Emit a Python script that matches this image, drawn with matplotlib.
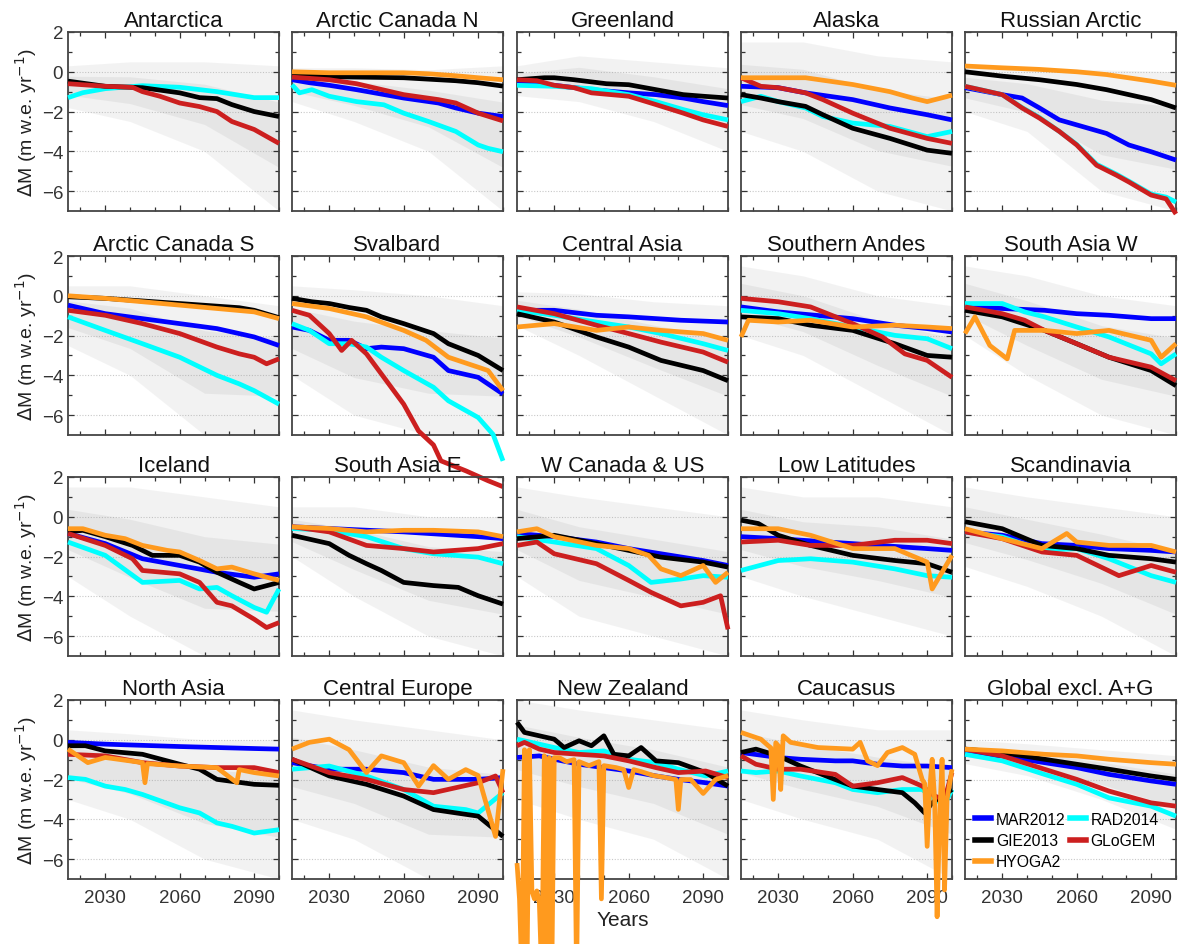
import matplotlib
matplotlib.use("Agg")
import matplotlib.pyplot as plt
import numpy as np
from matplotlib.lines import Line2D

plt.rcParams['font.family'] = ['Liberation Sans', 'DejaVu Sans']

# ---------------- data (years, values) per region and model ----------------
MODELS = ["MAR2012", "GIE2013", "HYOGA2", "RAD2014", "GLoGEM"]
COLORS = {"MAR2012": "#0000ff", "GIE2013": "#000000", "HYOGA2": "#ff9a1e",
          "RAD2014": "#00ffff", "GLoGEM": "#cc1f1f"}
DRAW_ORDER = ["MAR2012", "RAD2014", "GIE2013", "GLoGEM", "HYOGA2"]

ANTARCTICA = {
    "GIE2013": ([2015, 2030, 2045, 2060, 2068, 2075, 2081, 2090, 2100],
                [-0.47, -0.73, -0.8, -1.06, -1.3, -1.35, -1.65, -2.0, -2.25]),
    "GLoGEM": ([2015, 2030, 2041, 2045, 2052, 2060, 2068, 2075, 2081, 2090, 2100],
               [-0.6, -0.73, -0.78, -1.0, -1.23, -1.57, -1.75, -2.0, -2.5, -2.9, -3.6]),
    "RAD2014": ([2015, 2021, 2030, 2045, 2060, 2075, 2090, 2100],
                [-1.3, -1.05, -0.85, -0.7, -0.78, -1.0, -1.3, -1.3]),
}
ARCTIC_CANADA_N = {
    "HYOGA2": ([2015, 2030, 2060, 2070, 2081, 2090, 2100],
               [0.0, -0.05, -0.05, -0.1, -0.2, -0.3, -0.4]),
    "GIE2013": ([2015, 2030, 2060, 2081, 2090, 2100],
                [-0.17, -0.25, -0.3, -0.45, -0.55, -0.72]),
    "GLoGEM": ([2015, 2030, 2041, 2060, 2074, 2081, 2090, 2100],
               [-0.27, -0.4, -0.6, -1.15, -1.4, -1.57, -2.08, -2.47]),
    "MAR2012": ([2015, 2022, 2030, 2041, 2060, 2074, 2081, 2090, 2100],
                [-0.4, -0.55, -0.68, -0.9, -1.32, -1.57, -1.82, -2.08, -2.25]),
    "RAD2014": ([2015, 2018, 2023, 2030, 2041, 2052, 2060, 2070, 2081, 2090, 2094, 2100],
                [-0.65, -1.06, -0.9, -1.23, -1.5, -1.66, -2.08, -2.5, -3.0, -3.68, -3.85, -4.02]),
}
GREENLAND = {
    "GIE2013": ([2015, 2026, 2030, 2038, 2051, 2060, 2071, 2082, 2090, 2100],
                [-0.4, -0.3, -0.3, -0.4, -0.6, -0.65, -0.9, -1.15, -1.23, -1.32]),
    "MAR2012": ([2015, 2030, 2045, 2060, 2071, 2082, 2090, 2100],
                [-0.55, -0.68, -0.9, -1.06, -1.15, -1.32, -1.5, -1.7]),
    "GLoGEM": ([2015, 2023, 2030, 2038, 2045, 2060, 2071, 2082, 2090, 2100],
               [-0.4, -0.45, -0.68, -0.8, -1.06, -1.23, -1.65, -2.08, -2.42, -2.75]),
    "RAD2014": ([2015, 2030, 2045, 2060, 2071, 2082, 2090, 2100],
                [-0.68, -0.73, -0.85, -1.15, -1.5, -1.9, -2.16, -2.42]),
}
ALASKA = {
    "HYOGA2": ([2015, 2030, 2041, 2060, 2075, 2084, 2090, 2100],
               [-0.3, -0.3, -0.3, -0.64, -1.0, -1.32, -1.5, -1.18]),
    "MAR2012": ([2015, 2030, 2041, 2060, 2075, 2090, 2100],
                [-0.73, -0.8, -1.06, -1.4, -1.82, -2.16, -2.42]),
    "GLoGEM": ([2015, 2023, 2030, 2041, 2048, 2060, 2075, 2090, 2100],
               [-0.3, -0.73, -0.8, -1.06, -1.4, -2.08, -2.84, -3.35, -3.6]),
    "RAD2014": ([2015, 2023, 2030, 2041, 2048, 2060, 2075, 2090, 2100],
                [-1.5, -1.23, -1.5, -1.82, -2.25, -2.58, -2.75, -3.26, -3.0]),
    "GIE2013": ([2015, 2023, 2030, 2041, 2048, 2060, 2075, 2090, 2100],
                [-1.15, -1.32, -1.5, -1.74, -2.16, -2.84, -3.35, -3.94, -4.1]),
}
RUSSIAN_ARCTIC = {
    "HYOGA2": ([2015, 2030, 2045, 2060, 2072, 2090, 2100],
               [0.29, 0.2, 0.12, 0.0, -0.14, -0.47, -0.68]),
    "GIE2013": ([2015, 2030, 2045, 2060, 2072, 2090, 2100],
                [0.0, -0.22, -0.4, -0.64, -0.9, -1.4, -1.82]),
    "MAR2012": ([2015, 2030, 2038, 2045, 2053, 2060, 2072, 2081, 2090, 2100],
                [-0.8, -1.15, -1.32, -1.82, -2.42, -2.67, -3.1, -3.68, -4.02, -4.44]),
    "RAD2014": ([2015, 2024, 2030, 2038, 2045, 2053, 2060, 2068, 2076, 2081, 2090, 2096, 2100],
                [-0.73, -0.98, -1.15, -1.8, -2.3, -3.0, -3.65, -4.65, -5.15, -5.5, -6.15, -6.3, -6.55]),
    "GLoGEM": ([2015, 2024, 2030, 2038, 2045, 2053, 2060, 2068, 2076, 2081, 2090, 2096, 2100],
               [-0.73, -0.98, -1.15, -1.82, -2.33, -3.0, -3.68, -4.7, -5.2, -5.54, -6.2, -6.39, -7.15]),
}
ARCTIC_CANADA_S = {
    "HYOGA2": ([2015, 2030, 2045, 2060, 2075, 2090, 2100],
               [0.0, -0.13, -0.3, -0.47, -0.64, -0.81, -1.15]),
    "GIE2013": ([2015, 2030, 2060, 2084, 2090, 2100],
                [-0.05, -0.13, -0.39, -0.6, -0.73, -1.1]),
    "MAR2012": ([2015, 2030, 2045, 2060, 2075, 2090, 2100],
                [-0.47, -0.9, -1.15, -1.4, -1.65, -2.07, -2.5]),
    "GLoGEM": ([2015, 2030, 2045, 2060, 2075, 2084, 2090, 2095, 2100],
               [-0.73, -0.98, -1.4, -1.9, -2.58, -2.92, -3.09, -3.42, -3.17]),
    "RAD2014": ([2015, 2030, 2045, 2060, 2075, 2084, 2090, 2100],
                [-1.06, -1.74, -2.41, -3.09, -4.0, -4.43, -4.77, -5.45]),
}
SVALBARD = {
    "GIE2013": ([2015, 2023, 2030, 2038, 2045, 2051, 2060, 2072, 2078, 2090, 2100],
                [-0.13, -0.3, -0.39, -0.59, -0.73, -1.06, -1.4, -1.9, -2.41, -3.0, -3.76]),
    "HYOGA2": ([2015, 2030, 2045, 2060, 2069, 2078, 2090, 2094, 2100],
               [-0.39, -0.64, -1.06, -1.74, -2.24, -3.09, -3.59, -3.76, -4.77]),
    "MAR2012": ([2015, 2022, 2030, 2038, 2045, 2051, 2060, 2072, 2078, 2090, 2100],
                [-1.57, -1.74, -2.24, -2.24, -2.66, -2.58, -2.66, -3.09, -3.76, -4.1, -4.94]),
    "GLoGEM": ([2015, 2022, 2030, 2035, 2039, 2045, 2051, 2060, 2066, 2072, 2075, 2085, 2094, 2100],
               [-0.73, -0.98, -1.9, -2.75, -2.24, -2.92, -3.93, -5.45, -6.8, -7.5, -8.3, -8.8, -9.3, -9.6]),
    "RAD2014": ([2015, 2022, 2030, 2038, 2045, 2051, 2060, 2072, 2078, 2090, 2096, 2100],
                [-1.4, -1.74, -2.41, -2.41, -2.58, -3.09, -3.76, -4.6, -5.28, -6.12, -6.97, -8.3]),
}
CENTRAL_ASIA = {
    "MAR2012": ([2015, 2030, 2047, 2060, 2081, 2100], [-0.73, -0.73, -0.98, -1.06, -1.23, -1.32]),
    "RAD2014": ([2015, 2030, 2047, 2060, 2073, 2090, 2100], [-0.73, -0.98, -1.32, -1.57, -1.9, -2.41, -2.75]),
    "GLoGEM": ([2015, 2030, 2047, 2060, 2073, 2090, 2100], [-0.56, -0.9, -1.48, -1.9, -2.33, -2.83, -3.34]),
    "HYOGA2": ([2015, 2030, 2047, 2060, 2073, 2090, 2100], [-1.57, -1.4, -1.74, -1.57, -1.74, -1.9, -2.24]),
    "GIE2013": ([2015, 2030, 2047, 2060, 2073, 2090, 2100], [-0.9, -1.32, -2.07, -2.58, -3.25, -3.76, -4.27]),
}
SOUTHERN_ANDES = {
    "GLoGEM": ([2015, 2030, 2043, 2060, 2072, 2081, 2090, 2100], [-0.13, -0.3, -0.56, -1.4, -2.07, -2.92, -3.25, -4.1]),
    "MAR2012": ([2015, 2030, 2060, 2077, 2090, 2100], [-0.56, -0.81, -1.15, -1.48, -1.65, -1.82]),
    "RAD2014": ([2015, 2030, 2043, 2060, 2077, 2090, 2100], [-0.73, -0.9, -1.15, -1.57, -1.99, -2.16, -2.66]),
    "GIE2013": ([2015, 2030, 2043, 2060, 2077, 2090, 2100], [-1.06, -1.15, -1.48, -1.74, -2.41, -3.0, -3.09]),
    "HYOGA2": ([2015, 2018, 2030, 2043, 2060, 2077, 2090, 2100], [-2.07, -1.23, -1.32, -1.23, -1.57, -1.48, -1.57, -1.65]),
}
SOUTH_ASIA_W = {
    "MAR2012": ([2015, 2030, 2047, 2060, 2073, 2090, 2100], [-0.56, -0.64, -0.73, -0.9, -0.98, -1.15, -1.15]),
    "RAD2014": ([2015, 2030, 2039, 2047, 2060, 2073, 2090, 2094, 2100], [-0.39, -0.39, -0.81, -1.06, -1.57, -2.07, -2.92, -3.42, -2.92]),
    "GLoGEM": ([2015, 2030, 2039, 2047, 2060, 2073, 2090, 2100], [-0.56, -0.9, -1.23, -1.74, -2.41, -3.09, -3.59, -4.27]),
    "GIE2013": ([2015, 2030, 2047, 2060, 2073, 2090, 2100], [-0.73, -1.06, -1.74, -2.41, -3.09, -3.76, -4.52]),
    "HYOGA2": ([2015, 2019, 2025, 2032, 2035, 2047, 2060, 2073, 2090, 2094, 2100],
               [-1.9, -1.06, -2.5, -3.17, -1.74, -1.74, -1.9, -1.74, -2.24, -3.09, -2.41]),
}
ICELAND = {
    "HYOGA2": ([2015, 2021, 2030, 2038, 2045, 2055, 2060, 2068, 2075, 2081, 2090, 2100],
               [-0.6, -0.6, -0.93, -1.1, -1.44, -1.69, -1.77, -2.2, -2.62, -2.53, -2.87, -3.2]),
    "GIE2013": ([2015, 2021, 2030, 2041, 2049, 2060, 2068, 2075, 2084, 2090, 2100],
                [-0.76, -0.68, -1.0, -1.44, -1.94, -1.94, -2.28, -2.79, -3.3, -3.63, -3.3]),
    "MAR2012": ([2015, 2030, 2045, 2060, 2075, 2090, 2100], [-0.84, -1.35, -2.11, -2.45, -2.79, -3.04, -2.87]),
    "GLoGEM": ([2015, 2030, 2041, 2045, 2060, 2068, 2075, 2081, 2090, 2095, 2100],
               [-0.84, -1.44, -2.11, -2.7, -2.87, -3.3, -4.3, -4.48, -5.15, -5.57, -5.32]),
    "RAD2014": ([2015, 2030, 2045, 2060, 2068, 2075, 2081, 2090, 2095, 2100],
                [-1.27, -1.94, -3.3, -3.2, -3.63, -3.55, -3.97, -4.56, -4.8, -3.63]),
}
SOUTH_ASIA_E = {
    "HYOGA2": ([2015, 2030, 2045, 2060, 2072, 2090, 2100], [-0.5, -0.59, -0.76, -0.68, -0.68, -0.76, -1.0]),
    "MAR2012": ([2015, 2030, 2060, 2090, 2100], [-0.5, -0.59, -0.76, -1.0, -1.1]),
    "GLoGEM": ([2015, 2030, 2045, 2060, 2072, 2090, 2100], [-0.5, -0.76, -1.44, -1.6, -1.77, -1.6, -1.35]),
    "RAD2014": ([2015, 2030, 2045, 2060, 2072, 2090, 2100], [-0.59, -0.68, -1.0, -1.6, -1.86, -2.03, -2.36]),
    "GIE2013": ([2015, 2030, 2038, 2045, 2051, 2060, 2072, 2082, 2090, 2100],
                [-0.93, -1.35, -1.94, -2.36, -2.7, -3.3, -3.46, -3.55, -3.97, -4.39]),
}
W_CANADA_US = {
    "MAR2012": ([2015, 2030, 2047, 2060, 2073, 2090, 2100], [-0.84, -1.0, -1.27, -1.6, -1.86, -2.2, -2.45]),
    "GIE2013": ([2015, 2030, 2047, 2060, 2073, 2090, 2100], [-1.1, -0.93, -1.35, -1.69, -2.03, -2.28, -2.53]),
    "HYOGA2": ([2015, 2023, 2030, 2047, 2060, 2068, 2073, 2081, 2090, 2095, 2100],
               [-0.76, -0.6, -1.0, -1.44, -1.6, -1.94, -2.62, -2.96, -2.45, -3.3, -2.79]),
    "RAD2014": ([2015, 2030, 2047, 2060, 2069, 2081, 2090, 2100], [-1.0, -1.27, -1.6, -2.45, -3.3, -3.13, -2.96, -3.04]),
    "GLoGEM": ([2015, 2023, 2030, 2047, 2060, 2069, 2081, 2090, 2097, 2100],
               [-1.44, -1.27, -1.86, -2.36, -3.2, -3.8, -4.48, -4.3, -3.97, -5.66]),
}
LOW_LATITUDES = {
    "GIE2013": ([2015, 2022, 2030, 2043, 2060, 2077, 2090, 2100], [-0.17, -0.34, -0.93, -1.44, -1.94, -2.2, -2.36, -2.79]),
    "HYOGA2": ([2015, 2030, 2043, 2060, 2077, 2090, 2092, 2100], [-0.6, -0.6, -0.93, -1.6, -1.6, -2.28, -3.63, -1.94]),
    "GLoGEM": ([2015, 2030, 2043, 2060, 2077, 2090, 2100], [-1.27, -1.18, -1.44, -1.44, -1.18, -1.18, -1.35]),
    "MAR2012": ([2015, 2030, 2060, 2090, 2100], [-1.0, -1.1, -1.35, -1.6, -1.69]),
    "RAD2014": ([2015, 2030, 2043, 2060, 2077, 2090, 2100], [-2.7, -2.2, -2.11, -2.28, -2.62, -2.96, -3.04]),
}
SCANDINAVIA = {
    "GIE2013": ([2015, 2030, 2046, 2060, 2073, 2090, 2100], [-0.25, -0.6, -1.44, -1.6, -1.94, -2.11, -2.28]),
    "MAR2012": ([2015, 2030, 2046, 2060, 2073, 2090, 2100], [-0.76, -0.93, -1.35, -1.44, -1.6, -1.69, -1.77]),
    "HYOGA2": ([2015, 2030, 2046, 2056, 2060, 2073, 2090, 2100], [-0.6, -1.1, -1.6, -0.84, -1.27, -1.44, -1.44, -1.77]),
    "GLoGEM": ([2015, 2030, 2046, 2060, 2077, 2090, 2100], [-0.76, -1.1, -1.77, -1.94, -2.96, -2.45, -2.79]),
    "RAD2014": ([2015, 2030, 2046, 2060, 2073, 2090, 2100], [-0.76, -1.01, -1.69, -1.6, -2.11, -2.96, -3.3]),
}
NORTH_ASIA = {
    "MAR2012": ([2015, 2030, 2060, 2090, 2100], [-0.13, -0.22, -0.34, -0.44, -0.47]),
    "GIE2013": ([2015, 2022, 2030, 2045, 2060, 2068, 2075, 2090, 2100],
                [-0.3, -0.3, -0.56, -0.73, -1.23, -1.48, -1.99, -2.24, -2.29]),
    "HYOGA2": ([2015, 2023, 2030, 2045, 2046, 2047, 2060, 2075, 2083, 2084, 2090, 2100],
               [-0.47, -1.15, -0.89, -1.15, -2.16, -1.2, -1.32, -1.4, -2.16, -1.5, -1.65, -1.82]),
    "GLoGEM": ([2015, 2030, 2045, 2060, 2075, 2090, 2100], [-0.73, -0.81, -1.15, -1.32, -1.4, -1.4, -1.65]),
    "RAD2014": ([2015, 2022, 2030, 2038, 2045, 2060, 2068, 2075, 2081, 2090, 2100],
                [-1.9, -1.99, -2.33, -2.5, -2.75, -3.42, -3.68, -4.18, -4.35, -4.69, -4.52]),
}
CENTRAL_EUROPE = {
    "HYOGA2": ([2015, 2022, 2030, 2038, 2045, 2051, 2060, 2066, 2072, 2078, 2085, 2090, 2097, 2100],
               [-0.47, -0.13, 0.03, -0.5, -1.65, -0.81, -1.15, -2.33, -1.3, -1.99, -1.5, -1.8, -4.86, -1.48]),
    "MAR2012": ([2015, 2030, 2045, 2060, 2072, 2090, 2100], [-1.15, -1.48, -1.48, -1.65, -1.99, -1.99, -1.9]),
    "RAD2014": ([2015, 2030, 2045, 2060, 2072, 2085, 2090, 2100], [-1.48, -1.32, -1.82, -2.5, -3.34, -3.51, -3.68, -2.66]),
    "GLoGEM": ([2015, 2030, 2045, 2060, 2072, 2090, 2097, 2100], [-0.98, -1.65, -1.99, -2.5, -2.66, -2.16, -1.82, -2.66]),
    "GIE2013": ([2015, 2030, 2045, 2060, 2072, 2090, 2100], [-0.98, -1.82, -2.24, -2.83, -3.51, -3.84, -4.86]),
}
NEW_ZEALAND = {
    "GIE2013": ([2015, 2018, 2024, 2030, 2034, 2040, 2045, 2050, 2054, 2060, 2065, 2071, 2080, 2091, 2100],
                [0.88, 0.37, 0.2, 0.03, -0.39, -0.05, -0.3, 0.2, -0.73, -0.81, -0.39, -1.06, -1.15, -1.65, -2.33]),
    "RAD2014": ([2015, 2024, 2030, 2040, 2050, 2060, 2071, 2080, 2091, 2100],
                [0.03, -0.22, -0.39, -0.64, -0.56, -0.98, -1.15, -1.48, -1.82, -1.57]),
    "GLoGEM": ([2015, 2018, 2024, 2030, 2040, 2050, 2060, 2071, 2080, 2091, 2100],
               [-0.3, -0.13, -0.47, -0.64, -0.73, -0.81, -1.06, -1.4, -1.65, -1.57, -1.9]),
    "MAR2012": ([2015, 2024, 2030, 2040, 2050, 2060, 2071, 2080, 2091, 2100],
                [-0.89, -0.81, -0.98, -1.23, -1.4, -1.57, -1.82, -1.99, -2.16, -2.33]),
    "HYOGA2": ([2015, 2016, 2017, 2018, 2019, 2020, 2021, 2022, 2023, 2024, 2025, 2026, 2027, 2028,
                2029, 2030, 2032, 2035, 2038, 2039, 2040, 2044, 2048, 2049, 2050, 2055, 2058, 2060,
                2062, 2065, 2070, 2075, 2079, 2080, 2081, 2085, 2090, 2095, 2100],
               [-6.2, -8.0, -12.0, -0.5, -12.0, -0.5, -7.6, -8.0, -7.6, -8.2, -12.0, -0.8, -12.0, -0.9,
                -12.0, -0.9, -0.9, -1.1, -1.0, -12.0, -1.1, -1.3, -1.1, -8.0, -1.3, -1.4, -1.5, -2.4,
                -1.5, -1.6, -1.8, -1.9, -2.0, -3.5, -2.0, -2.0, -2.7, -2.0, -1.8]),
}
CAUCASUS = {
    "HYOGA2": ([2015, 2019, 2023, 2026, 2027, 2028, 2029, 2030, 2031, 2032, 2035, 2046, 2060, 2063, 2066,
                2070, 2074, 2080, 2085, 2088, 2089, 2090, 2091, 2092, 2093, 2094, 2095, 2096, 2097, 2098, 2100],
               [0.37, 0.2, 0.03, -0.3, -0.4, -3.0, -0.15, -0.3, -2.5, 0.2, -0.13, -0.39, -0.47, -0.13, -1.06,
                -1.3, -0.64, -0.39, -0.73, -2.0, -2.2, -5.36, -2.5, -0.98, -3.0, -8.9, -4.0, -0.98, -7.55, -3.0, -1.48]),
    "MAR2012": ([2015, 2030, 2039, 2053, 2060, 2070, 2080, 2090, 2100],
                [-0.64, -0.89, -0.98, -1.06, -1.06, -1.23, -1.32, -1.32, -1.4]),
    "GIE2013": ([2015, 2021, 2030, 2039, 2053, 2060, 2070, 2080, 2085, 2089, 2092, 2100],
                [-0.64, -0.47, -0.81, -1.32, -2.0, -2.33, -2.5, -2.66, -3.17, -3.68, -3.17, -2.5]),
    "GLoGEM": ([2015, 2021, 2030, 2039, 2053, 2060, 2070, 2080, 2088, 2093, 2097, 2100],
               [-0.81, -1.23, -1.48, -1.48, -1.74, -2.33, -2.16, -1.9, -2.33, -2.83, -3.0, -1.65]),
    "RAD2014": ([2015, 2021, 2030, 2039, 2053, 2060, 2070, 2080, 2088, 2093, 2097, 2100],
                [-1.57, -1.65, -1.57, -1.82, -2.16, -2.5, -2.66, -2.5, -2.5, -3.0, -3.26, -2.5]),
}
GLOBAL = {
    "HYOGA2": ([2015, 2030, 2047, 2060, 2073, 2090, 2100], [-0.47, -0.56, -0.73, -0.81, -0.98, -1.15, -1.23]),
    "GIE2013": ([2015, 2030, 2047, 2060, 2073, 2090, 2100], [-0.47, -0.64, -0.98, -1.23, -1.48, -1.82, -1.99]),
    "MAR2012": ([2015, 2030, 2047, 2060, 2073, 2090, 2100], [-0.73, -0.81, -1.15, -1.4, -1.74, -2.07, -2.24]),
    "GLoGEM": ([2015, 2030, 2047, 2060, 2073, 2090, 2100], [-0.47, -0.81, -1.48, -1.99, -2.58, -3.17, -3.34]),
    "RAD2014": ([2015, 2030, 2047, 2060, 2073, 2090, 2100], [-0.73, -1.06, -1.74, -2.24, -2.92, -3.34, -3.84]),
}

TITLES = ["Antarctica", "Arctic Canada N", "Greenland", "Alaska", "Russian Arctic",
          "Arctic Canada S", "Svalbard", "Central Asia", "Southern Andes", "South Asia W",
          "Iceland", "South Asia E", "W Canada & US", "Low Latitudes", "Scandinavia",
          "North Asia", "Central Europe", "New Zealand", "Caucasus", "Global excl. A+G"]
REGION_DATA = [ANTARCTICA, ARCTIC_CANADA_N, GREENLAND, ALASKA, RUSSIAN_ARCTIC,
               ARCTIC_CANADA_S, SVALBARD, CENTRAL_ASIA, SOUTHERN_ANDES, SOUTH_ASIA_W,
               ICELAND, SOUTH_ASIA_E, W_CANADA_US, LOW_LATITUDES, SCANDINAVIA,
               NORTH_ASIA, CENTRAL_EUROPE, NEW_ZEALAND, CAUCASUS, GLOBAL]

# ensemble spread (thin-line envelope) per region at these years
ENV_YEARS = [2015, 2040, 2070, 2100]
ENV_UPPER = [[0.3, 0.5, 0.5, 0.3], [0.2, 0.2, 0.1, 0.3], [0.3, 0.8, 0.5, 0.2], [1.5, 1.5, 0.8, 0.5],
             [0.3, 0.2, 0.1, 0.0], [0.5, 0.5, 0.0, -0.5], [0.5, 0.3, 0.0, -0.5], [0.2, 0.1, -0.3, -0.5],
             [1.5, 1.0, 0.0, -0.5], [1.5, 1.0, 0.0, -0.5], [1.5, 1.5, 1.0, 0.5], [0.5, 0.5, 0.0, 0.0],
             [1.5, 1.0, 0.5, 0.0], [1.5, 1.0, 1.0, 0.5], [1.5, 1.0, 0.5, 0.0], [0.5, 0.3, 0.0, 0.0],
             [1.5, 1.0, 0.5, 0.0], [2.0, 1.5, 1.0, 0.5], [1.5, 1.0, 0.5, 0.5], [0.0, -0.2, -0.5, -0.8]]
ENV_LOWER = [[-1.8, -2.5, -4.0, -7.0], [-1.5, -2.5, -4.0, -7.0], [-1.2, -1.5, -2.5, -4.0], [-3.0, -4.0, -6.0, -7.0],
             [-2.0, -3.0, -6.0, -7.0], [-2.5, -4.0, -7.0, -7.0], [-4.0, -6.0, -7.0, -7.0], [-1.5, -3.0, -5.0, -7.0],
             [-2.0, -3.0, -5.0, -7.0], [-2.0, -4.0, -6.0, -7.0], [-3.0, -5.0, -7.0, -7.0], [-2.0, -4.0, -6.0, -7.0],
             [-3.0, -5.0, -6.0, -7.0], [-3.0, -4.0, -5.0, -6.0], [-2.5, -3.5, -5.0, -7.0], [-3.0, -4.0, -6.0, -7.0],
             [-4.0, -5.0, -7.0, -7.0], [-3.0, -4.0, -5.0, -7.0], [-3.0, -4.0, -5.0, -7.0], [-1.2, -1.8, -3.0, -4.5]]

X_MAJOR = [2030, 2060, 2090]
X_MINOR = [2020, 2040, 2050, 2070, 2080, 2100]
Y_MAJOR = [2, 0, -2, -4, -6]

# ---------------- layout ----------------
W, H = 1182, 945
fig = plt.figure(figsize=(W / 100, H / 100), dpi=100)
lefts = [68, 292, 517, 741, 965]
tops = [33, 257, 478, 701]
aw, ah = 211, 179

axes = []
for i, (title, data) in enumerate(zip(TITLES, REGION_DATA)):
    r, c = divmod(i, 5)
    ax = fig.add_axes([lefts[c] / W, 1 - (tops[r] + ah) / H, aw / W, ah / H])
    ax.set_facecolor('none')
    ax.set_xlim(2015, 2100)
    ax.set_ylim(-7, 2)
    # ensemble haze: outer spread and a denser inner core
    lo = np.array(ENV_LOWER[i])
    up = np.array(ENV_UPPER[i])
    ax.fill_between(ENV_YEARS, lo, up, color='#a8a8a8', alpha=0.14, lw=0, zorder=1)
    ax.fill_between(ENV_YEARS, lo + 0.3 * (up - lo), up - 0.25 * (up - lo),
                    color='#8c8c8c', alpha=0.12, lw=0, zorder=1)
    for y in [0, -2, -4, -6]:
        ax.axhline(y, color='#c8c8c8', lw=0.8, ls=(0, (1, 1.5)), zorder=0.5)
    for m in DRAW_ORDER:
        if m in data:
            xs, ys = data[m]
            ax.plot(xs, ys, color=COLORS[m], lw=3.4, clip_on=False, zorder=3,
                    solid_joinstyle='round', solid_capstyle='butt')
    ax.set_title(title, fontsize=16, pad=4, color='#111111')
    ax.set_xticks(X_MAJOR)
    ax.set_xticks(X_MINOR, minor=True)
    ax.set_yticks(Y_MAJOR)
    ax.set_yticks([1, -1, -3, -5], minor=True)
    ax.tick_params(which='both', direction='in', top=True, right=True, colors='#333333',
                   labelsize=13.5, width=0.9)
    ax.tick_params(which='major', length=4)
    ax.tick_params(which='minor', length=3)
    ax.tick_params(axis='x', pad=7)
    if r < 3:
        ax.tick_params(axis='x', labelbottom=False)
    if c > 0:
        ax.tick_params(axis='y', labelleft=False)
    else:
        ax.set_ylabel(r'$\Delta$M (m w.e. yr$^{-1}$)', fontsize=14, color='#222222', labelpad=2)
    for s in ax.spines.values():
        s.set_color('#444444')
        s.set_linewidth(1.3)
    axes.append(ax)

axes[17].set_xlabel('Years', fontsize=15, color='#222222', labelpad=3)

# legend in the global panel
handles = [Line2D([], [], color=COLORS[m], lw=4) for m in MODELS]
leg = axes[19].legend(handles, MODELS, loc='upper left', bbox_to_anchor=(0.02, 0.41),
                      ncol=2, frameon=False, fontsize=11.3, handlelength=1.0,
                      handletextpad=0.3, columnspacing=0.3, labelspacing=0.4,
                      borderaxespad=0.2, borderpad=0.2)

fig.savefig('out.png', dpi=100)
